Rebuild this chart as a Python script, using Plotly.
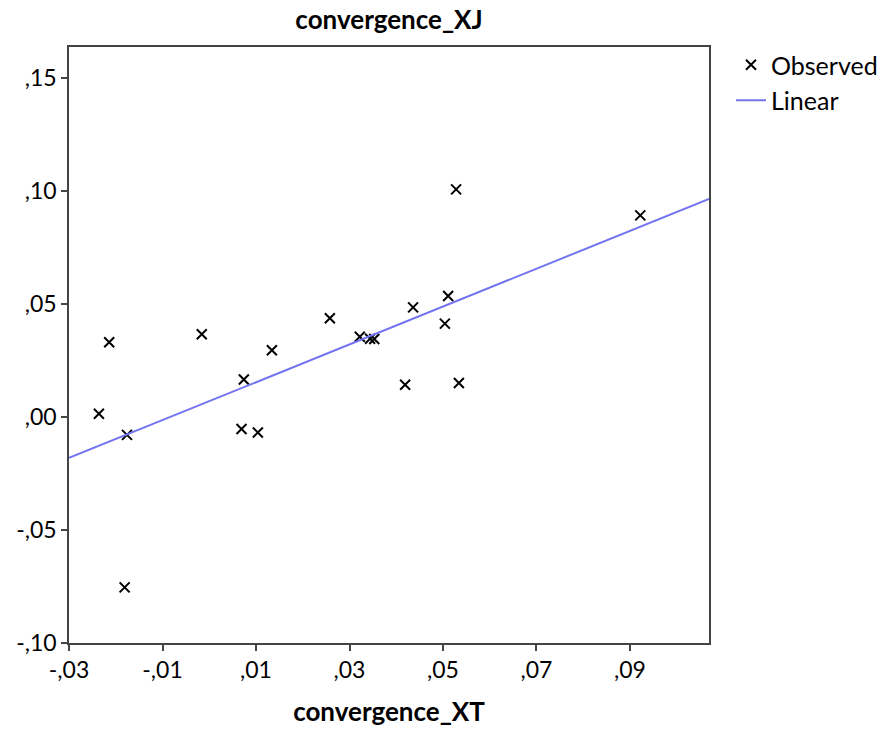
import numpy as np
import plotly.graph_objects as go

# Observed pairs
convergence_XT = [-0.0236, -0.0214, -0.0176, -0.0181, -0.0016, 0.0069, 0.0074, 0.0104,
                  0.0134, 0.0258, 0.0322, 0.0344, 0.0353, 0.0419, 0.0436, 0.0504,
                  0.0511, 0.0528, 0.0534, 0.0922]
convergence_XJ = [0.0014, 0.0331, -0.0079, -0.0754, 0.0366, -0.0053, 0.0166, -0.0069,
                  0.0295, 0.0437, 0.0355, 0.0346, 0.0345, 0.0143, 0.0485, 0.0413,
                  0.0535, 0.1007, 0.0150, 0.0892]

x_tickvals = [-0.03, -0.01, 0.01, 0.03, 0.05, 0.07, 0.09]
x_ticktext = ["-,03", "-,01", ",01", ",03", ",05", ",07", ",09"]
y_tickvals = [-0.10, -0.05, 0.00, 0.05, 0.10, 0.15]
y_ticktext = ["-,10", "-,05", ",00", ",05", ",10", ",15"]

x_range = [-0.03, 0.1069]
y_range = [-0.10, 0.1637]

# Least-squares linear fit across the visible x range
slope, intercept = np.polyfit(convergence_XT, convergence_XJ, 1)
fit_x = np.array(x_range)
fit_y = slope * fit_x + intercept

FONT = "Lato, sans-serif"
W, H = 888, 732

fig = go.Figure()
fig.add_trace(go.Scatter(
    x=convergence_XT, y=convergence_XJ, mode="markers", name="Observed",
    marker=dict(symbol="x-thin", size=10, color="black",
                line=dict(color="black", width=2)),
))
fig.add_trace(go.Scatter(
    x=fit_x, y=fit_y, mode="lines", name="Linear",
    line=dict(color="#7474f0", width=2),
))

axis_common = dict(
    showgrid=False, zeroline=False, showline=True, mirror=True,
    linecolor="#444444", linewidth=1.5, ticks="outside", ticklen=6,
    tickcolor="#444444", tickwidth=1.5, automargin=False,
    tickfont=dict(family=FONT, size=23, color="black"),
)

fig.update_layout(
    width=W, height=H,
    margin=dict(l=69, r=179, t=47, b=89),
    paper_bgcolor="white", plot_bgcolor="white",
    title=dict(text="convergence_XJ", x=389 / W, xanchor="center",
               y=1 - 20 / H, yanchor="middle",
               font=dict(family=FONT, size=26, color="black", weight="bold")),
    xaxis=dict(range=x_range, tickvals=x_tickvals, ticktext=x_ticktext,
               title=dict(text="convergence_XT", standoff=20,
                          font=dict(family=FONT, size=26, color="black",
                                    weight="bold")),
               **axis_common),
    yaxis=dict(range=y_range, tickvals=y_tickvals, ticktext=y_ticktext,
               **axis_common),
    legend=dict(xref="container", yref="container",
                x=731 / W, y=1 - 42 / H, xanchor="left", yanchor="top",
                font=dict(family=FONT, size=25, color="black"),
                bgcolor="rgba(0,0,0,0)", itemwidth=30, tracegroupgap=0),
    showlegend=True,
)

fig.write_html("out.html")
